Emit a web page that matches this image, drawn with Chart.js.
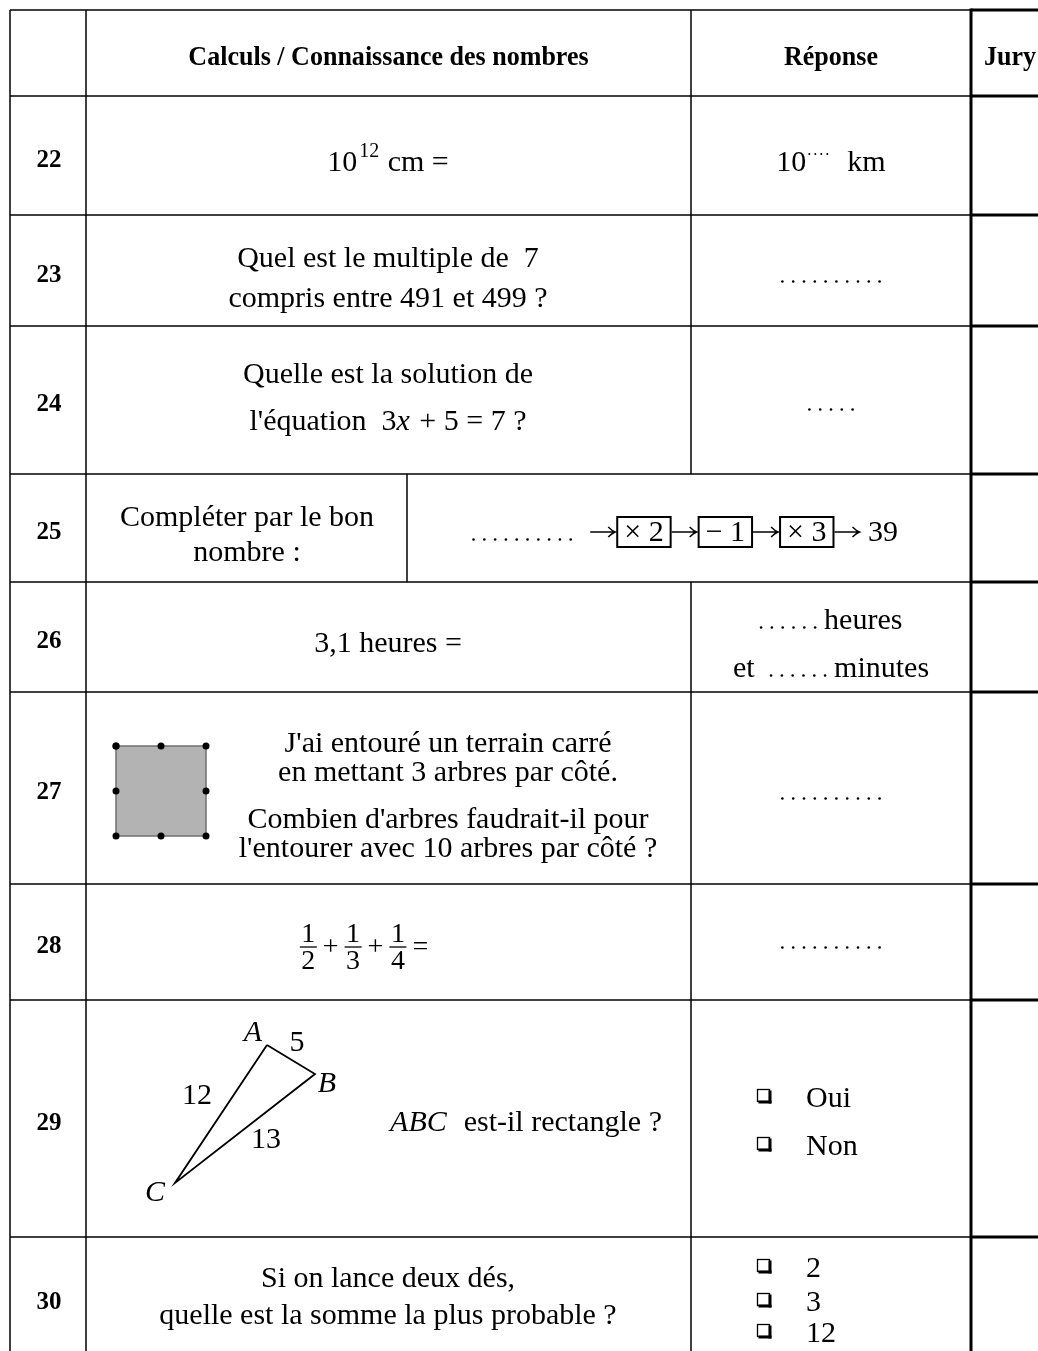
<!DOCTYPE html>
<html>
<head>
<meta charset="utf-8">
<script src="https://cdn.jsdelivr.net/npm/chart.js@4.4.1/dist/chart.umd.min.js"></script>
<style>
  html, body { margin: 0; padding: 0; background: #fff; }
  canvas { display: block; }
</style>
</head>
<body>
<canvas id="sheet" width="1038" height="1351"></canvas>
<script>
// ---- content of the sheet ----
const headers = ['Calculs / Connaissance des nombres', 'Réponse', 'Jury'];
const questionNumbers = ['22', '23', '24', '25', '26', '27', '28', '29', '30'];

// each question / answer is a list of lines, each line a list of runs
const questions = [
  [['10', { sup: '12' }, ' cm =']],
  [['Quel est le multiple de  7'], ['compris entre 491 et 499 ?']],
  [['Quelle est la solution de'], ["l'équation  3", { it: 'x' }, ' + 5 = 7 ?']],
  [['Compléter par le bon'], ['nombre :']],
  [['3,1 heures =']],
  [["J'ai entouré un terrain carré"], ['en mettant 3 arbres par côté.'],
   ["Combien d'arbres faudrait-il pour"], ["l'entourer avec 10 arbres par côté ?"]],
  [[{ frac: ['1', '2'] }, { op: '+' }, { frac: ['1', '3'] }, { op: '+' }, { frac: ['1', '4'] }, { op: '=' }]],
  [[{ it: 'ABC' }, '  est-il rectangle ?']],
  [['Si on lance deux dés,'], ['quelle est la somme la plus probable ?']]
];
const answers = [
  [['10', { supDots: 4 }, '  km']],
  [[{ dots: 10 }]],
  [[{ dots: 5 }]],
  [[{ dots: 10 }, { gap: 18 }, { arrow: 1 }, { box: '× 2' }, { arrow: 1 }, { box: '− 1' },
    { arrow: 1 }, { box: '× 3' }, { arrow: 1 }, ' 39']],
  [[{ dots: 6 }, ' heures'], ['et  ', { dots: 6 }, ' minutes']],
  [[{ dots: 10 }]],
  [[{ dots: 10 }]],
  [[{ check: 1 }, 'Oui'], [{ check: 1 }, 'Non']],
  [[{ check: 1 }, '2'], [{ check: 1 }, '3'], [{ check: 1 }, '12']]
];

// figures
const treesPerSide = 3;
const vertexNames = ['A', 'B', 'C'];
const sideLabels = ['5', '12', '13'];

// ---- layout (pixels of the sheet) ----
const W = 1038, H = 1351;
const colX = { left: 10, num: 86, split: 407, answer: 691, jury: 971, right: 1038 };
const rowY = [10, 96, 215, 326, 474, 582, 692, 884, 1000, 1237];
const questionPos = [
  { cx: 388, base: [171] },
  { cx: 388, base: [267, 307] },
  { cx: 388, base: [383, 430] },
  { cx: 247, base: [526, 561] },
  { cx: 388, base: [652] },
  { cx: 448, base: [752, 781, 828, 857] },
  { cx: 366, base: [955] },
  { cx: 526, base: [1131] },
  { cx: 388, base: [1287, 1324] }
];
const answerPos = [
  { cx: 831, base: [171] },
  { cx: 831, base: [283] },
  { cx: 831, base: [411] },
  { cx: 685, base: [541] },
  { cx: 831, base: [629, 677] },
  { cx: 831, base: [800] },
  { cx: 831, base: [949] },
  { left: 757, base: [1107, 1155] },
  { left: 757, base: [1277, 1311, 1342] }
];
const squareBox = { x: 116, y: 746, size: 90 };
const trianglePts = [[267, 1045], [315, 1074], [175, 1183]];
const vertexLabelPos = [[253, 1041], [327, 1092], [155, 1201]];
const sideLabelPos = [[297, 1051], [197, 1104], [266, 1148]];

const SERIF = "'Liberation Serif', 'Times New Roman', serif";
const F = {
  body: '30px ' + SERIF,
  ital: 'italic 30px ' + SERIF,
  sup: '20px ' + SERIF,
  frac: '28px ' + SERIF,
  head: 'bold 28px ' + SERIF,
  num: 'bold 25px ' + SERIF
};
const HEAD_SQUEEZE = 0.93;

// square perimeter points, one per tree
const squarePoints = [];
const step = squareBox.size / (treesPerSide - 1);
const corners = [[0, 0], [1, 0], [1, 1], [0, 1]];
for (let s = 0; s < 4; s++) {
  const a = corners[s], b = corners[(s + 1) % 4];
  for (let k = 0; k < treesPerSide - 1; k++) {
    const t = k * step;
    squarePoints.push({
      x: squareBox.x + a[0] * squareBox.size + (b[0] - a[0]) * t,
      y: squareBox.y + a[1] * squareBox.size + (b[1] - a[1]) * t
    });
  }
}
squarePoints.push(squarePoints[0]);

const trianglePoints = trianglePts.map(p => ({ x: p[0], y: p[1] }));
trianglePoints.push(trianglePoints[0]);

// ---- rich text runs ----
function runWidth(ctx, r) {
  if (typeof r === 'string') { ctx.font = F.body; return ctx.measureText(r).width; }
  if (r.it) { ctx.font = F.ital; return ctx.measureText(r.it).width + 2; }
  if (r.sup) { ctx.font = F.sup; return ctx.measureText(r.sup).width + 3; }
  if (r.supDots) return r.supDots * 6 + 2;
  if (r.dots) return (r.dots - 1) * 10.8 + 3;
  if (r.gap) return r.gap;
  if (r.arrow) return 26;
  if (r.box) { ctx.font = F.body; return ctx.measureText(r.box).width + 16; }
  if (r.op) { ctx.font = F.frac; return ctx.measureText(r.op).width + 10; }
  if (r.frac) {
    ctx.font = F.frac;
    return Math.max(ctx.measureText(r.frac[0]).width, ctx.measureText(r.frac[1]).width) + 5;
  }
  if (r.check) return 49;
  return 0;
}

function drawRun(ctx, r, x, base, w) {
  ctx.fillStyle = '#000';
  ctx.strokeStyle = '#000';
  ctx.textAlign = 'left';
  ctx.textBaseline = 'alphabetic';
  if (typeof r === 'string') { ctx.font = F.body; ctx.fillText(r, x, base); return; }
  if (r.it) { ctx.font = F.ital; ctx.fillText(r.it, x, base); return; }
  if (r.sup) { ctx.font = F.sup; ctx.fillText(r.sup, x + 2, base - 14); return; }
  if (r.supDots) {
    for (let i = 0; i < r.supDots; i++) {
      ctx.beginPath(); ctx.arc(x + 3 + i * 6, base - 17, 1, 0, Math.PI * 2); ctx.fill();
    }
    return;
  }
  if (r.dots) {
    for (let i = 0; i < r.dots; i++) {
      ctx.beginPath(); ctx.arc(x + 1.5 + i * 10.8, base - 1.5, 1.3, 0, Math.PI * 2); ctx.fill();
    }
    return;
  }
  if (r.arrow) {
    const y = base - 9;
    ctx.lineWidth = 1.4;
    ctx.beginPath();
    ctx.moveTo(x, y); ctx.lineTo(x + w - 1, y);
    ctx.moveTo(x + w - 8, y - 5); ctx.quadraticCurveTo(x + w - 4, y - 1, x + w - 1, y);
    ctx.quadraticCurveTo(x + w - 4, y + 1, x + w - 8, y + 5);
    ctx.stroke();
    return;
  }
  if (r.box) {
    ctx.lineWidth = 2;
    ctx.strokeRect(x + 1, base - 24, w - 2, 30);
    ctx.font = F.body;
    ctx.fillText(r.box, x + 8, base);
    return;
  }
  if (r.op) {
    ctx.font = F.frac;
    ctx.textAlign = 'center';
    ctx.fillText(r.op, x + w / 2, base);
    return;
  }
  if (r.frac) {
    const y = base - 8;
    ctx.lineWidth = 1.3;
    ctx.beginPath(); ctx.moveTo(x + 1, y); ctx.lineTo(x + w - 1, y); ctx.stroke();
    ctx.font = F.frac;
    ctx.textAlign = 'center';
    ctx.fillText(r.frac[0], x + w / 2, y - 5);
    ctx.fillText(r.frac[1], x + w / 2, y + 22);
    return;
  }
  if (r.check) {
    const s = 12, top = base - 18;
    ctx.lineWidth = 1.3;
    ctx.strokeRect(x + 0.5, top + 0.5, s, s);
    ctx.fillRect(x + s - 0.5, top + 1.5, 3, s + 1);
    ctx.fillRect(x + 1.5, top + s - 0.5, s + 1, 3);
  }
}

function drawLine(ctx, runs, pos, base) {
  const widths = runs.map(r => runWidth(ctx, r));
  const total = widths.reduce((a, b) => a + b, 0);
  let x = pos.left !== undefined ? pos.left : pos.cx - total / 2;
  runs.forEach((r, i) => { drawRun(ctx, r, x, base, widths[i]); x += widths[i]; });
}

// ---- plugin drawing the table through the scales ----
const tablePlugin = {
  id: 'tableSheet',
  beforeDatasetsDraw(chart) {
    const ctx = chart.ctx, xs = chart.scales.x, ys = chart.scales.y;
    const px = v => xs.getPixelForValue(v), py = v => ys.getPixelForValue(v);
    const seg = (x1, y1, x2, y2, lw) => {
      ctx.lineWidth = lw;
      ctx.beginPath(); ctx.moveTo(px(x1), py(y1)); ctx.lineTo(px(x2), py(y2)); ctx.stroke();
    };
    ctx.save();
    ctx.strokeStyle = '#000';
    ctx.lineCap = 'butt';
    rowY.forEach(y => {
      seg(colX.left, y, colX.jury, y, 1.5);
      seg(colX.jury, y, colX.right, y, 3);
    });
    seg(colX.left, rowY[0], colX.left, H, 1.5);
    seg(colX.num, rowY[0], colX.num, H, 1.5);
    seg(colX.answer, rowY[0], colX.answer, rowY[4], 1.5);
    seg(colX.answer, rowY[5], colX.answer, H, 1.5);
    seg(colX.split, rowY[4], colX.split, rowY[5], 1.5);
    seg(colX.jury, rowY[0] - 1.5, colX.jury, H, 3);
    ctx.restore();
  },
  afterDatasetsDraw(chart) {
    const ctx = chart.ctx, xs = chart.scales.x, ys = chart.scales.y;
    const px = v => xs.getPixelForValue(v), py = v => ys.getPixelForValue(v);
    ctx.save();
    ctx.fillStyle = '#000';
    ctx.textBaseline = 'alphabetic';

    // header, slightly condensed like the original typesetting
    ctx.font = F.head;
    const headBase = py((rowY[0] + rowY[1]) / 2 + 12);
    const headText = (t, x, align) => {
      ctx.save();
      ctx.translate(x, headBase);
      ctx.scale(HEAD_SQUEEZE, 1);
      ctx.textAlign = align;
      ctx.fillText(t, 0, 0);
      ctx.restore();
    };
    headText(headers[0], px((colX.num + colX.answer) / 2), 'center');
    headText(headers[1], px((colX.answer + colX.jury) / 2), 'center');
    headText(headers[2], px(colX.jury + 13), 'left');

    // question numbers
    ctx.font = F.num;
    ctx.textAlign = 'center';
    questionNumbers.forEach((n, i) => {
      const bottom = i + 2 < rowY.length ? rowY[i + 2] : H + 8;
      ctx.fillText(n, px((colX.left + colX.num) / 2 + 1), py((rowY[i + 1] + bottom) / 2 + 11));
    });

    questions.forEach((lines, i) => {
      const pos = questionPos[i];
      lines.forEach((runs, j) => drawLine(ctx, runs, { cx: px(pos.cx) }, py(pos.base[j])));
    });
    answers.forEach((lines, i) => {
      const pos = answerPos[i];
      const p = pos.left !== undefined ? { left: px(pos.left) } : { cx: px(pos.cx) };
      lines.forEach((runs, j) => drawLine(ctx, runs, p, py(pos.base[j])));
    });

    // triangle labels
    ctx.textAlign = 'center';
    ctx.font = F.ital;
    vertexNames.forEach((v, i) => ctx.fillText(v, px(vertexLabelPos[i][0]), py(vertexLabelPos[i][1])));
    ctx.font = F.body;
    sideLabels.forEach((v, i) => ctx.fillText(v, px(sideLabelPos[i][0]), py(sideLabelPos[i][1])));
    ctx.restore();
  }
};

const chart = new Chart(document.getElementById('sheet'), {
  type: 'scatter',
  data: {
    datasets: [
      {
        label: 'terrain',
        data: squarePoints,
        showLine: true,
        fill: 'shape',
        backgroundColor: '#b3b3b3',
        borderColor: '#707070',
        borderWidth: 1.5,
        pointRadius: 3.5,
        pointBackgroundColor: '#000',
        pointBorderWidth: 0,
        tension: 0
      },
      {
        label: 'ABC',
        data: trianglePoints,
        showLine: true,
        fill: false,
        borderColor: '#000',
        borderWidth: 1.8,
        pointRadius: 0,
        tension: 0
      }
    ]
  },
  options: {
    responsive: false,
    animation: false,
    devicePixelRatio: 1,
    events: [],
    layout: { padding: 0, autoPadding: false },
    plugins: { legend: { display: false }, tooltip: { enabled: false } },
    scales: {
      x: { type: 'linear', min: 0, max: W, display: false },
      y: { type: 'linear', min: 0, max: H, reverse: true, display: false }
    }
  },
  plugins: [tablePlugin]
});
</script>
</body>
</html>
